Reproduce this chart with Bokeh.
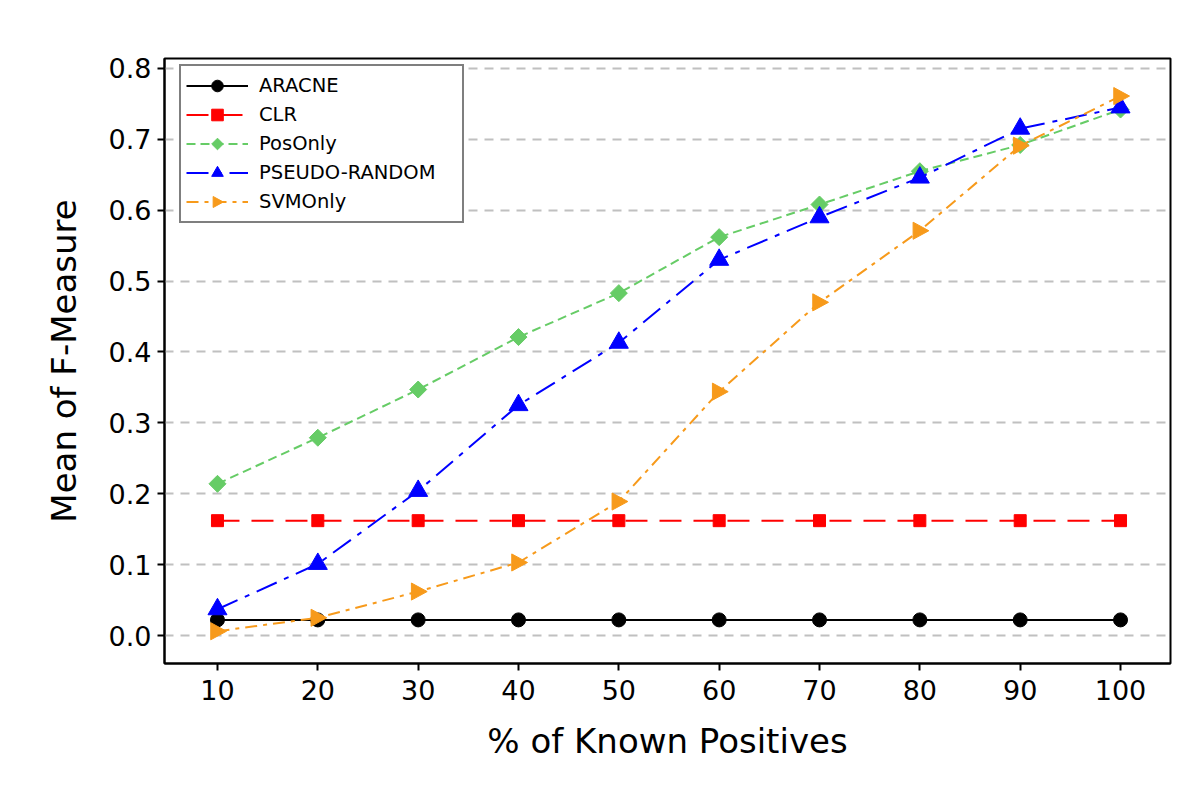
from bokeh.plotting import figure
from bokeh.models import Range1d, FixedTicker, Legend, LegendItem, CustomJS, CustomJSTickFormatter
from bokeh.embed import file_html
from bokeh.resources import INLINE

pct = [10, 20, 30, 40, 50, 60, 70, 80, 90, 100]
aracne = [0.022, 0.022, 0.022, 0.022, 0.022, 0.022, 0.022, 0.022, 0.022, 0.022]
clr = [0.162, 0.162, 0.162, 0.162, 0.162, 0.162, 0.162, 0.162, 0.162, 0.162]
posonly = [0.214, 0.279, 0.347, 0.421, 0.483, 0.562, 0.608, 0.655, 0.692, 0.742]
pseudo = [0.037, 0.101, 0.204, 0.325, 0.413, 0.530, 0.590, 0.646, 0.715, 0.745]
svmonly = [0.006, 0.025, 0.062, 0.103, 0.189, 0.344, 0.470, 0.571, 0.691, 0.761]
y_ticks = [0.0, 0.1, 0.2, 0.3, 0.4, 0.5, 0.6, 0.7, 0.8]

FONT = "DejaVu Sans"

tri_right = CustomJS(code='''
export default (args, obj, {ctx, i, r, visuals}) => {
    ctx.moveTo(r, 0)
    ctx.lineTo(-0.75*r, -0.95*r)
    ctx.lineTo(-0.75*r, 0.95*r)
    ctx.closePath()
    visuals.fill.apply(ctx, i)
    visuals.line.apply(ctx, i)
}
''')
diamond_sq = CustomJS(code='''
export default (args, obj, {ctx, i, r, visuals}) => {
    ctx.moveTo(0, -r)
    ctx.lineTo(r, 0)
    ctx.lineTo(0, r)
    ctx.lineTo(-r, 0)
    ctx.closePath()
    visuals.fill.apply(ctx, i)
    visuals.line.apply(ctx, i)
}
''')

p = figure(width=1184, height=780, output_backend="svg", toolbar_location=None,
           x_range=Range1d(4.72, 104.98), y_range=Range1d(-0.0395, 0.814),
           min_border_left=164, min_border_right=14, min_border_top=58, min_border_bottom=117)

p.outline_line_color = "black"
p.outline_line_width = 2
p.background_fill_color = "white"
p.border_fill_color = "white"

p.xgrid.visible = False
p.ygrid.grid_line_color = "#c0c0c0"
p.ygrid.grid_line_width = 2
p.ygrid.grid_line_dash = "9 7"
p.ygrid.ticker = FixedTicker(ticks=y_ticks)

p.xaxis.ticker = FixedTicker(ticks=pct)
p.yaxis.ticker = FixedTicker(ticks=y_ticks)
p.yaxis.formatter = CustomJSTickFormatter(code="return tick.toFixed(1);")

for ax in (p.xaxis[0], p.yaxis[0]):
    ax.axis_line_color = "black"
    ax.axis_line_width = 2
    ax.major_tick_line_color = "black"
    ax.major_tick_line_width = 2
    ax.major_tick_out = 7
    ax.major_tick_in = 0
    ax.minor_tick_line_color = None
    ax.major_label_text_font = FONT
    ax.major_label_text_font_size = "27px"
    ax.major_label_text_color = "black"
    ax.axis_label_text_font = FONT
    ax.axis_label_text_font_size = "34px"
    ax.axis_label_text_font_style = "normal"
    ax.axis_label_text_color = "black"

p.xaxis.axis_label = "% of Known Positives"
p.yaxis.axis_label = "Mean of F-Measure"
p.xaxis.major_label_standoff = 9
p.yaxis.major_label_standoff = 6
p.xaxis.axis_label_standoff = 18
p.yaxis.axis_label_standoff = 22

items = []

l1 = p.line(pct, aracne, line_color="black", line_width=2)
m1 = p.scatter(pct, aracne, marker="circle", size=14, fill_color="black", line_color="black")
items.append(LegendItem(label="ARACNE", renderers=[l1, m1]))

l2 = p.line(pct, clr, line_color="red", line_width=2, line_dash="22 12")
m2 = p.scatter(pct, clr, marker="square", size=12, fill_color="red", line_color="red")
items.append(LegendItem(label="CLR", renderers=[l2, m2]))

l3 = p.line(pct, posonly, line_color="#66cc66", line_width=2, line_dash="9 5")
m3 = p.scatter(pct, posonly, marker="@diamond_sq", defs={"@diamond_sq": diamond_sq},
               size=17, fill_color="#66cc66", line_color="#66cc66")
items.append(LegendItem(label="PosOnly", renderers=[l3, m3]))

l4 = p.line(pct, pseudo, line_color="blue", line_width=2, line_dash="22 8 5 8")
m4 = p.scatter(pct, pseudo, marker="triangle", size=19, fill_color="blue", line_color="blue")
items.append(LegendItem(label="PSEUDO-RANDOM", renderers=[l4, m4]))

l5 = p.line(pct, svmonly, line_color="#f79a1b", line_width=2, line_dash="12 6 4 6")
m5 = p.scatter(pct, svmonly, marker="@tri_right", defs={"@tri_right": tri_right},
               size=18, fill_color="#f79a1b", line_color="#f79a1b")
items.append(LegendItem(label="SVMOnly", renderers=[l5, m5]))

legend = Legend(items=items, location=(15, 440))
legend.margin = 0
legend.border_line_color = "black"
legend.border_line_width = 2
legend.background_fill_color = "white"
legend.background_fill_alpha = 1.0
legend.label_text_font = FONT
legend.label_text_font_size = "19.5px"
legend.label_text_color = "black"
legend.glyph_width = 62
legend.glyph_height = 29
legend.label_standoff = 11
legend.spacing = 0
legend.padding = 5
legend.label_width = 198
p.add_layout(legend, "center")

open("out.html", "w").write(file_html(p, INLINE))
